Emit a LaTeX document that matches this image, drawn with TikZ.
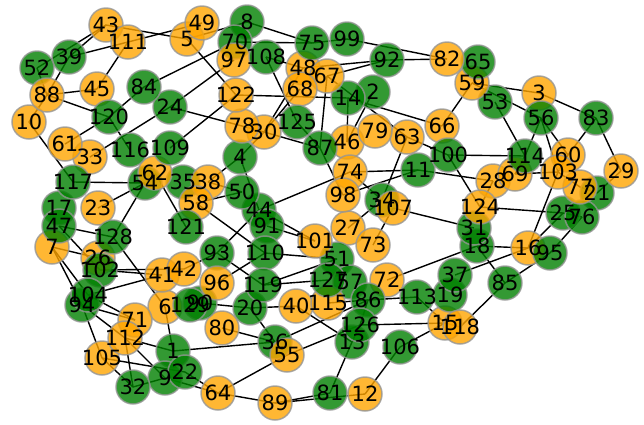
\documentclass[tikz,border=0pt]{standalone}
\usepackage{fontspec}
\setmainfont{DejaVu Sans}
\pgfdeclarelayer{bg}
\pgfsetlayers{bg,main}
\definecolor{nodeO}{RGB}{255,165,0}
\definecolor{nodeG}{RGB}{0,128,0}
\definecolor{rim}{RGB}{150,150,150}
\begin{document}
\begin{tikzpicture}[x=1pt,y=-1pt,
  vtx/.style={circle,minimum size=34pt,inner sep=0pt,draw=rim,line width=1.5pt,fill opacity=0.8,draw opacity=0.8},
  lab/.style={inner sep=0pt,font=\fontsize{21}{21}\selectfont},
  edge/.style={line width=1.4pt,black}]
\useasboundingbox (0,0) rectangle (644,424);
\foreach \n/\x/\y/\c in {
1/173/351/G,2/373/92/G,3/539/93/O,4/240/157/G,5/187/39/O,6/165/307/O,7/52/247/O,8/247/22/G,9/165/378/G,10/29/122/O,
11/418/170/G,12/365/394/O,13/352/342/G,14/348/98/G,15/445/323/O,16/528/248/O,17/59/208/G,18/477/246/G,19/450/295/G,20/250/308/G,
21/597/193/G,22/185/372/G,23/98/208/O,24/170/107/G,25/563/213/G,26/98/258/O,27/348/228/O,28/493/181/O,29/621/171/O,30/264/132/O,
31/474/228/G,32/133/387/G,33/90/157/O,34/382/200/G,35/183/182/G,36/275/342/G,37/455/275/G,38/208/182/O,39/69/57/G,40/296/306/O,
41/162/275/O,42/184/269/O,43/106/25/O,44/259/210/G,45/97/89/O,46/347/142/O,47/59/226/G,48/303/68/O,49/202/23/O,50/242/192/G,
51/337/259/G,52/37/68/G,53/495/102/G,54/145/183/G,55/287/355/O,56/541/118/G,57/350/282/G,58/196/203/O,59/472/83/O,60/568/155/O,
61/65/144/O,62/155/173/O,63/407/137/O,64/218/393/O,65/478/62/G,66/442/126/O,67/327/76/O,68/300/89/O,69/515/174/O,70/235/42/G,
71/135/320/O,72/387/280/O,73/373/245/O,74/350/172/O,75/312/43/G,76/582/217/G,77/580/187/O,78/242/126/O,79/375/131/O,80/222/328/O,
81/330/393/G,82/447/59/O,83/596/118/G,84/144/87/G,85/505/283/G,86/368/300/G,87/320/148/G,88/47/95/O,89/275/403/O,90/200/303/G,
91/267/226/G,92/387/60/G,93/217/253/G,94/82/305/G,95/550/253/G,96/217/283/O,97/234/60/O,98/343/195/O,99/347/39/G,100/448/155/G,
101/315/241/O,102/100/270/G,103/558/172/O,104/88/295/G,105/102/358/O,106/400/347/G,107/393/208/O,108/266/57/G,109/170/148/G,110/265/253/G,
111/128/42/O,112/125/338/O,113/417/297/G,114/525/156/G,115/328/303/O,116/130/150/G,117/73/182/G,118/460/327/O,119/263/285/G,120/109/117/G,
121/186/227/G,122/236/95/O,124/480/207/O,125/297/122/G,126/360/325/G,127/328/280/G,128/113/237/G,129/190/305/G}
{\node[vtx,fill=node\c] (n\n) at (\x,\y) {};}
\begin{pgfonlayer}{bg}
\foreach \a/\b in {52/43,39/43,39/111,88/39,52/88,88/10,88/45,88/120,111/45,43/5,111/49,84/120,84/70,61/120,120/116,33/24,10/117,
5/8,8/75,70/75,5/122,75/99,108/48,108/125,68/30,48/30,122/14,97/24,122/109,24/78,78/30,30/87,67/87,
99/82,92/82,67/92,48/92,67/63,14/66,2/46,66/59,63/100,
59/3,3/83,59/56,53/114,56/114,56/60,56/103,83/60,83/29,100/114,
11/28,124/25,103/16,18/16,95/76,16/25,18/85,85/95,85/118,69/103,21/29,
74/11,98/11,100/124,63/34,74/34,107/31,34/27,107/73,72/18,44/74,
4/30,38/4,4/44,38/50,58/50,87/98,62/121,58/110,44/101,93/44,110/51,93/119,110/96,91/101,42/93,119/51,
20/40,90/20,115/86,119/127,80/36,20/36,36/86,40/13,55/126,1/36,55/64,64/89,89/81,89/12,81/13,22/64,
104/41,104/71,94/71,94/112,94/105,112/1,112/9,105/22,105/32,112/32,32/9,9/64,6/1,
117/54,23/54,54/128,47/128,47/102,7/26,7/104,7/94,128/6,102/41,102/42,
106/12,106/15,126/15,86/113,15/118,37/16,126/86,13/126,113/15,125/87,46/14,60/103,114/69,124/28,103/77,77/21,25/76}
{\draw[edge] (n\a.center) -- (n\b.center);}
\end{pgfonlayer}
\foreach \n in {1,...,122,124,125,...,129}
{\node[lab] (t\n) at (n\n) {\n};}
\end{tikzpicture}
\end{document}
